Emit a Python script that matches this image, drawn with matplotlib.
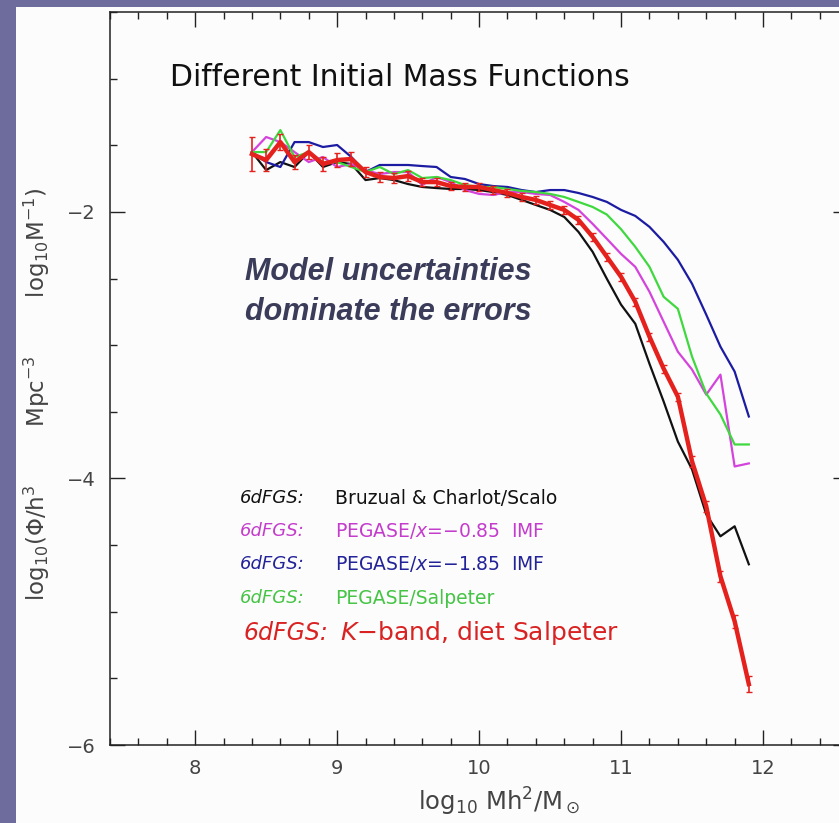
import numpy as np
import matplotlib
matplotlib.use("Agg")
import matplotlib.pyplot as plt
from matplotlib.patches import Rectangle

# log10 mass bins
mass = [8.4, 8.5, 8.6, 8.7, 8.8, 8.9, 9.0, 9.1, 9.2, 9.3, 9.4, 9.5,
        9.6, 9.7, 9.8, 9.9, 10.0, 10.1, 10.2, 10.3, 10.4, 10.5, 10.6, 10.7,
        10.8, 10.9, 11.0, 11.1, 11.2, 11.3, 11.4, 11.5, 11.6, 11.7, 11.8, 11.9]

# Bruzual & Charlot / Scalo
phi_bc = [-1.551, -1.686, -1.626, -1.663, -1.551, -1.663, -1.626, -1.641, -1.761,
          -1.746, -1.761, -1.791, -1.813, -1.821, -1.828, -1.828, -1.836, -1.851,
          -1.873, -1.910, -1.948, -1.985, -2.038, -2.150, -2.300, -2.502, -2.696,
          -2.839, -3.139, -3.423, -3.723, -3.932, -4.269, -4.434, -4.359, -4.644]
# PEGASE x=-0.85
phi_p085 = [-1.551, -1.438, -1.476, -1.551, -1.626, -1.588, -1.663, -1.641, -1.686,
            -1.716, -1.701, -1.701, -1.798, -1.738, -1.776, -1.836, -1.865, -1.873,
            -1.851, -1.851, -1.865, -1.873, -1.925, -1.985, -2.090, -2.202, -2.315,
            -2.412, -2.599, -2.824, -3.049, -3.183, -3.371, -3.221, -3.910, -3.887]
# PEGASE x=-1.85
phi_p185 = [-1.551, -1.626, -1.663, -1.476, -1.476, -1.513, -1.498, -1.588, -1.701,
            -1.648, -1.648, -1.648, -1.656, -1.663, -1.738, -1.753, -1.791, -1.806,
            -1.813, -1.836, -1.851, -1.836, -1.836, -1.858, -1.888, -1.925, -1.985,
            -2.030, -2.112, -2.225, -2.359, -2.539, -2.771, -3.011, -3.198, -3.535]
# PEGASE Salpeter
phi_psal = [-1.551, -1.551, -1.386, -1.588, -1.551, -1.626, -1.626, -1.663, -1.701,
            -1.663, -1.716, -1.686, -1.746, -1.738, -1.761, -1.798, -1.813, -1.813,
            -1.828, -1.843, -1.851, -1.865, -1.888, -1.925, -1.963, -2.020, -2.130,
            -2.262, -2.412, -2.637, -2.727, -3.086, -3.363, -3.520, -3.745, -3.745]
# K-band, diet Salpeter
phi_k = [-1.566, -1.611, -1.476, -1.626, -1.551, -1.641, -1.611, -1.603, -1.701,
         -1.738, -1.746, -1.731, -1.776, -1.776, -1.806, -1.813, -1.813, -1.836,
         -1.858, -1.888, -1.910, -1.948, -1.985, -2.060, -2.187, -2.337, -2.487,
         -2.674, -2.936, -3.176, -3.386, -3.872, -4.209, -4.734, -5.071, -5.543]
err_k = [0.13, 0.08, 0.06, 0.05, 0.05, 0.05, 0.05, 0.05, 0.04, 0.04, 0.04, 0.04,
         0.03, 0.03, 0.03, 0.03, 0.03, 0.03, 0.03, 0.03, 0.03, 0.03, 0.03, 0.03,
         0.03, 0.03, 0.03, 0.03, 0.03, 0.03, 0.03, 0.04, 0.04, 0.04, 0.05, 0.06]

fig = plt.figure(figsize=(8.39, 8.23), dpi=100, facecolor="#6d6c9c")
fig.patches.append(Rectangle((16 / 839, 0), 1, (823 - 7) / 823,
                             transform=fig.transFigure, facecolor="#fcfcfc",
                             edgecolor="none", zorder=-10))

ax = fig.add_axes([110 / 839, 78 / 823, 738.2 / 839, 733 / 823])
ax.set_facecolor("none")

ax.plot(mass, phi_bc, color="#111111", lw=1.6)
ax.plot(mass, phi_p085, color="#d444dc", lw=1.6)
ax.plot(mass, phi_p185, color="#1c1ca2", lw=1.6)
ax.plot(mass, phi_psal, color="#3fd83f", lw=1.6)
ax.errorbar(mass, phi_k, yerr=err_k, color="#e5211d", lw=3.2, elinewidth=1.2,
            capsize=2, zorder=5)

ax.set_xlim(7.4, 12.6)
ax.set_ylim(-6, -0.5)
ax.set_xticks([8, 9, 10, 11, 12])
ax.set_xticks(np.arange(7.4, 12.61, 0.2), minor=True)
ax.set_yticks([-6, -4, -2])
ax.set_yticks(np.arange(-6, -0.49, 0.5), minor=True)
ax.tick_params(which="both", direction="in", top=True, right=True,
               colors="#222222", labelcolor="#444444", labelsize=14)
ax.tick_params(which="major", length=11, width=1.0, pad=10)
ax.tick_params(which="minor", length=5, width=1.0)
ax.set_yticklabels(["\u22126", "\u22124", "\u22122"])
for s in ax.spines.values():
    s.set_linewidth(1.1)
    s.set_color("#222222")

ax.set_xlabel(r"log$_{10}$ Mh$^2$/M$_\odot$", fontsize=17.5, color="#444444")
ax.xaxis.set_label_coords(0.527, -0.055)
ax.set_ylabel(r"log$_{10}$($\Phi$/h$^3$        Mpc$^{-3}$        log$_{10}$M$^{-1}$)",
              fontsize=16.5, color="#444444")
ax.yaxis.set_label_coords(-0.078, 0.478)

ax.text(7.824, -0.99, "Different Initial Mass Functions", fontsize=21.5,
        color="#111111", va="center", ha="left")

ax.text(8.352, -2.45, "Model uncertainties", fontsize=22, fontweight="bold",
        fontstyle="italic", family="Liberation Sans", color="#3a3c5a",
        va="center")
ax.text(8.352, -2.75, "dominate the errors", fontsize=22, fontweight="bold",
        fontstyle="italic", family="Liberation Sans", color="#3a3c5a",
        va="center")

legend_y = [-4.15, -4.397, -4.644, -4.899]
legend_txt = ["Bruzual & Charlot/Scalo", "PEGASE/$x$=\u22120.85  IMF",
              "PEGASE/$x$=\u22121.85  IMF", "PEGASE/Salpeter"]
legend_col = ["#111111", "#c43ccc", "#222299", "#45c445"]
for yy, tt, cc in zip(legend_y, legend_txt, legend_col):
    ax.text(8.317, yy, "6dFGS:", fontsize=13, fontstyle="italic",
            color=cc, va="center")
    ax.text(8.986, yy, tt, fontsize=13.5, color=cc, va="center")

ax.text(8.338, -5.161, "6dFGS:", fontsize=17, fontstyle="italic",
        color="#d92222", va="center")
ax.text(9.02, -5.161, "$K$\u2212band, diet Salpeter", fontsize=18,
        color="#d92222", va="center")

fig.savefig("out.png", dpi=100, facecolor=fig.get_facecolor())
